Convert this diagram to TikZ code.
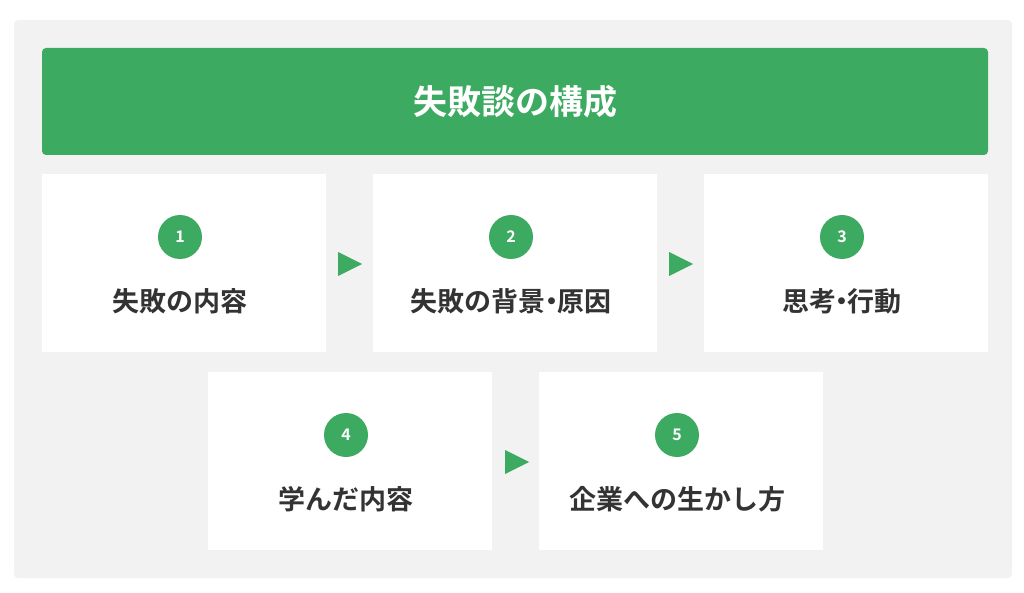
\documentclass[tikz,border=0pt]{standalone}
\usepackage{fontspec}
\newfontfamily\cjk{Noto Sans CJK JP Bold}
\definecolor{gr}{HTML}{3DAA62}
\definecolor{bg}{HTML}{F2F2F2}
\definecolor{tx}{HTML}{333333}
\newcommand{\mdot}{\kern-0.28em ・\kern-0.28em }
\begin{document}
\begin{tikzpicture}[x=1pt,y=-1pt,
 card/.style={fill=white,draw=none,minimum width=284pt,minimum height=178pt,inner sep=0},
 num/.style={circle,fill=gr,minimum size=44pt,inner sep=0,text=white,font=\cjk\fontsize{16}{16}\selectfont},
 lab/.style={text=tx,font=\cjk\fontsize{27}{27}\selectfont},
 tri/.style={fill=gr,draw=none}]
\useasboundingbox (0,0) rectangle (1024,593);
\fill[white] (0,0) rectangle (1024,593);
\fill[bg,rounded corners=4pt] (14,20) rectangle (1012,578);
\node[fill=gr,rounded corners=4pt,minimum width=946pt,minimum height=107pt,inner sep=0,text=white,font=\cjk\fontsize{34}{34}\selectfont] (title) at (515,101.5) {失敗談の構成};
\node[card] (b1) at (184,263) {};
\node[card] (b2) at (515,263) {};
\node[card] (b3) at (846,263) {};
\node[card] (b4) at (350,461) {};
\node[card] (b5) at (681,461) {};
\foreach \b/\n/\t in {b1/1/失敗の内容,b2/2/失敗の背景\mdot 原因,b3/3/思考\mdot 行動,b4/4/学んだ内容,b5/5/企業への生かし方}{
 \node[num] (\b n) at ([shift={(-4,-26)}]\b.center) {\n};
 \node[lab] (\b t) at ([shift={(-4,38)}]\b.center) {\t};
}
\coordinate (a1) at (338,264); \coordinate (a2) at (669,264); \coordinate (a3) at (505,462);
\foreach \a in {a1,a2,a3}{\fill[tri] ([shift={(0,-12)}]\a) -- ([shift={(24,0)}]\a) -- ([shift={(0,12)}]\a) -- cycle;}
\end{tikzpicture}
\end{document}
